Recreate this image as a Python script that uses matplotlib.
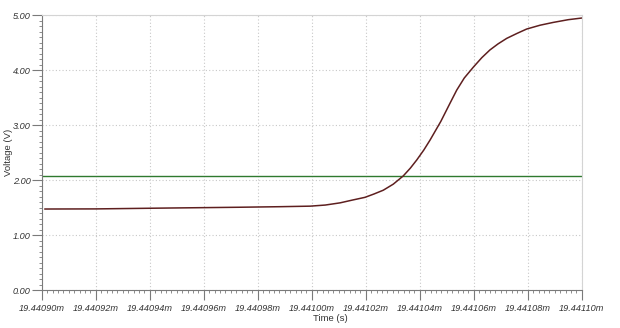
import numpy as np
import matplotlib.pyplot as plt
from matplotlib.ticker import MultipleLocator, AutoMinorLocator, FuncFormatter

plt.rcParams['font.family'] = ['Liberation Sans', 'DejaVu Sans']

# time in ms, voltage in V
time_ms = [19.4409012, 19.4409200, 19.4409470, 19.4409730, 19.4409880, 19.4409994,
           19.4410050, 19.4410105, 19.4410150, 19.4410197, 19.4410230, 19.4410265,
           19.4410302, 19.4410339, 19.4410365, 19.4410389, 19.4410415, 19.4410438,
           19.4410478, 19.4410512, 19.4410537, 19.4410565, 19.4410599, 19.4410630,
           19.4410660, 19.4410690, 19.4410722, 19.4410760, 19.4410796, 19.4410846,
           19.4410894, 19.4410950, 19.4411000]
voltage = [1.478, 1.48, 1.496, 1.51, 1.52, 1.53,
           1.55, 1.59, 1.64, 1.69, 1.75, 1.82,
           1.93, 2.08, 2.22, 2.37, 2.55, 2.73,
           3.07, 3.40, 3.64, 3.86, 4.06, 4.23,
           4.37, 4.48, 4.58, 4.67, 4.75, 4.82,
           4.87, 4.92, 4.95]

thresh_t = [19.44090, 19.44110]
thresh_v = [2.07, 2.07]

fig = plt.figure(figsize=(6.2, 3.28), dpi=100)
ax = fig.add_axes([0.0673, 0.1149, 0.8710, 0.8385])

ax.plot(thresh_t, thresh_v, color='#2f7a2f', lw=1.0)
ax.plot(time_ms, voltage, color='#5e1f1f', lw=1.1)

ax.set_xlim(19.44090, 19.44110)
ax.set_ylim(0, 5)
ax.xaxis.set_major_locator(MultipleLocator(0.00002))
ax.xaxis.set_minor_locator(AutoMinorLocator(10))
ax.yaxis.set_major_locator(MultipleLocator(1.0))
ax.yaxis.set_minor_locator(AutoMinorLocator(10))
ax.xaxis.set_major_formatter(FuncFormatter(lambda v, p: f'{v:.5f}m'))
ax.yaxis.set_major_formatter(FuncFormatter(lambda v, p: f'{v:.2f}'))

ax.grid(True, which='major', color='#c8c8c8', ls=(0, (1, 2)), lw=0.8)

for s in ['top', 'right']:
    ax.spines[s].set_color('#d4d4d4')
for s in ['left', 'bottom']:
    ax.spines[s].set_color('#7a7a7a')

ax.tick_params(which='major', length=7, width=0.8, color='#7a7a7a',
               labelsize=6.6, labelcolor='#333333')
ax.tick_params(which='minor', length=2, width=0.6, color='#7a7a7a')
ax.tick_params(axis='x', which='major', pad=3)
ax.tick_params(axis='y', which='major', pad=1)
for lab in ax.get_xticklabels() + ax.get_yticklabels():
    lab.set_fontstyle('italic')

ax.set_xlabel('Time (s)', fontsize=6.8, color='#333333', va='center')
ax.xaxis.set_label_coords(0.534, -0.103)
ax.set_ylabel('Voltage (V)', fontsize=6.8, color='#333333', va='center')
ax.yaxis.set_label_coords(-0.062, 0.5)

fig.savefig('out.png', dpi=100)
